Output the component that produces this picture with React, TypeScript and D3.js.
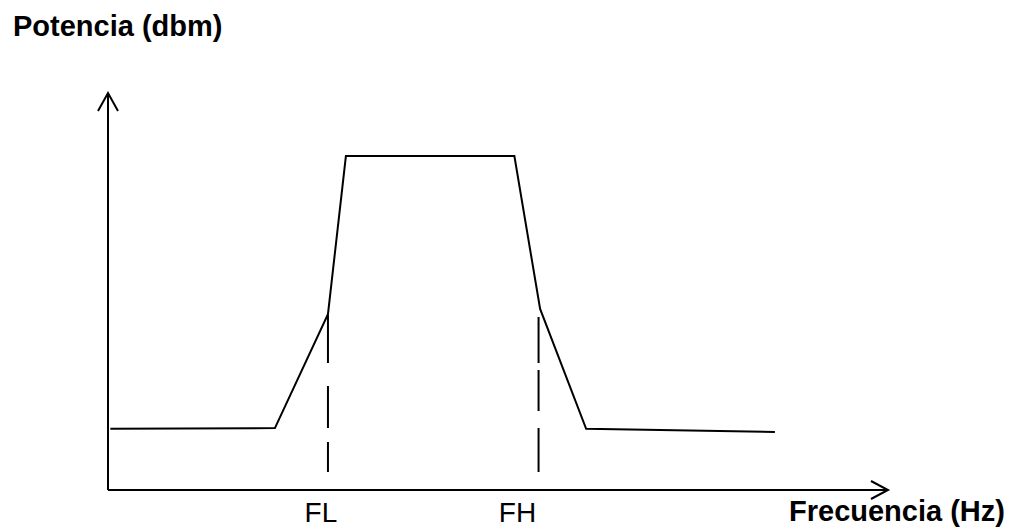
import React from "react";
import * as d3 from "d3";

const freqs = [0.3, 21.4, 28.2, 30.5, 52.1, 55.4, 61.3, 85.5];
const power = [15.4, 15.6, 44.3, 84.1, 84.1, 45.6, 15.4, 14.6];
const markers = ["FL", "FH"];
const markerFreqs = [28.2, 55.2];
const markerTop = [44.1, 43.6];
const markerBottom = 4.5;
const markerDashes = ["48 23 42 14 30", "46 7 41 17 44"];
const markerLabelFreqs = [27.3, 52.5];
const yTitle = "Potencia (dbm)";
const xTitle = "Frecuencia (Hz)";

const W = 1009;
const H = 529;

export default function App() {
  const x = d3.scaleLinear().domain([0, 100]).range([108, 888]);
  const y = d3.scaleLinear().domain([0, 100]).range([490, 93]);
  const pts: [number, number][] = freqs.map((f, i) => [f, power[i]]);
  const line = d3
    .line<[number, number]>()
    .x((d) => x(d[0]))
    .y((d) => y(d[1]));
  const x0 = x(0);
  const y0 = y(0);
  const xEnd = x(100);
  const yEnd = y(100);
  return (
    <svg
      width={W}
      height={H}
      style={{ position: "absolute", left: 0, top: 0, background: "#fff" }}
      fontFamily="'Liberation Sans', Arial, sans-serif"
    >
      <rect width={W} height={H} fill="#fff" />
      {/* axes */}
      <line x1={x0} y1={y0} x2={x0} y2={yEnd} stroke="#000" strokeWidth={2} />
      <line x1={x0} y1={y0} x2={xEnd} y2={y0} stroke="#000" strokeWidth={2} />
      <polyline
        points={`${x0 - 10},${yEnd + 18} ${x0},${yEnd} ${x0 + 10},${yEnd + 18}`}
        fill="none"
        stroke="#000"
        strokeWidth={2}
      />
      <polyline
        points={`${xEnd - 17},${y0 - 9} ${xEnd},${y0} ${xEnd - 17},${y0 + 9}`}
        fill="none"
        stroke="#000"
        strokeWidth={2}
      />
      {/* spectrum */}
      <path d={line(pts) || ""} fill="none" stroke="#000" strokeWidth={2} />
      {/* markers */}
      {markers.map((m, i) => (
        <g key={m}>
          <line
            x1={x(markerFreqs[i])}
            x2={x(markerFreqs[i])}
            y1={y(markerTop[i])}
            y2={y(markerBottom)}
            stroke="#000"
            strokeWidth={2}
            strokeDasharray={markerDashes[i]}
          />
          <text
            x={x(markerLabelFreqs[i])}
            y={522}
            fontSize={28}
            textAnchor="middle"
            fill="#000"
          >
            {m}
          </text>
        </g>
      ))}
      <text x={13} y={36} fontSize={29} fontWeight="bold" fill="#000">
        {yTitle}
      </text>
      <text x={789} y={521} fontSize={29} fontWeight="bold" fill="#000">
        {xTitle}
      </text>
    </svg>
  );
}
